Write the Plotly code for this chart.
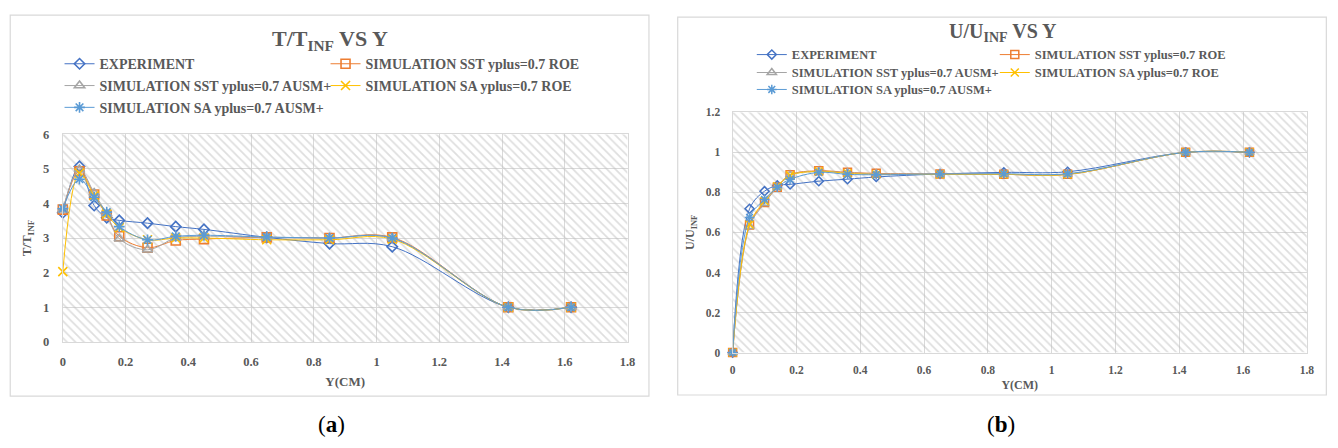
import plotly.graph_objects as go

W, H = 1338, 448

# ---------------- data ----------------
y_cm = [0, 0.053, 0.1, 0.14, 0.18, 0.27, 0.36, 0.45, 0.65, 0.85, 1.05, 1.42, 1.62]

series_names = [
    "EXPERIMENT",
    "SIMULATION SST yplus=0.7 ROE",
    "SIMULATION SST yplus=0.7 AUSM+",
    "SIMULATION SA yplus=0.7 ROE",
    "SIMULATION SA yplus=0.7 AUSM+",
]

t_exp      = [3.73, 5.07, 3.94, 3.59, 3.51, 3.43, 3.33, 3.25, 3.02, 2.84, 2.75, 1.0, 1.0]
t_sst_roe  = [3.82, 4.93, 4.26, 3.65, 3.05, 2.72, 2.93, 2.97, 3.02, 3.00, 3.02, 1.0, 1.0]
t_sst_ausm = [3.82, 4.98, 4.30, 3.70, 2.98, 2.66, 3.00, 3.05, 3.02, 3.00, 3.00, 1.0, 1.0]
t_sa_roe   = [2.03, 4.88, 4.22, 3.70, 3.30, 2.95, 3.00, 3.00, 2.95, 2.95, 2.97, 1.0, 1.0]
t_sa_ausm  = [3.85, 4.70, 4.18, 3.75, 3.33, 2.95, 3.05, 3.08, 3.03, 3.00, 3.00, 1.0, 1.0]

u_exp      = [0, 0.718, 0.806, 0.835, 0.840, 0.856, 0.866, 0.877, 0.892, 0.900, 0.903, 1.0, 1.0]
u_sst_roe  = [0, 0.637, 0.750, 0.826, 0.888, 0.908, 0.900, 0.895, 0.892, 0.890, 0.890, 1.0, 1.0]
u_sst_ausm = [0, 0.630, 0.745, 0.826, 0.886, 0.905, 0.898, 0.893, 0.892, 0.890, 0.890, 1.0, 1.0]
u_sa_roe   = [0, 0.640, 0.757, 0.830, 0.885, 0.905, 0.895, 0.890, 0.890, 0.890, 0.890, 1.0, 1.0]
u_sa_ausm  = [0, 0.675, 0.765, 0.826, 0.865, 0.900, 0.890, 0.888, 0.892, 0.893, 0.893, 1.0, 1.0]

t_series = [t_exp, t_sst_roe, t_sst_ausm, t_sa_roe, t_sa_ausm]
u_series = [u_exp, u_sst_roe, u_sst_ausm, u_sa_roe, u_sa_ausm]

x_range = [0, 1.8]
t_range = [0, 6]
u_range = [0, 1.2]

# ---------------- styles ----------------
colors = ["#4472C4", "#ED7D31", "#A5A5A5", "#FFC000", "#5B9BD5"]
symbols = ["diamond-open", "square-open", "triangle-up-open", "x-thin-open", "asterisk-open"]
sizes_l = [8, 9, 9, 9, 9]
sizes_r = [7, 8, 8, 8, 8]
legends_l = ["legend", "legend", "legend2", "legend2", "legend3"]
legends_r = ["legend4", "legend4", "legend5", "legend5", "legend6"]

TXT = "#595959"
GRID = "#D9D9D9"
FONT = "Liberation Serif"


def px_x(p):
    return p / W


def px_y(p):
    return 1 - p / H


fig = go.Figure()

# hatched plot-area backgrounds
for xa, ya, yr in [("x", "y", t_range), ("x2", "y2", u_range)]:
    fig.add_trace(go.Scatter(
        x=[x_range[0], x_range[1], x_range[1], x_range[0], x_range[0]],
        y=[yr[0], yr[0], yr[1], yr[1], yr[0]],
        xaxis=xa, yaxis=ya, mode="none", fill="toself",
        fillcolor="rgba(0,0,0,0)",
        fillpattern=dict(shape="\\", fgcolor="#BDBDBD", bgcolor="rgba(0,0,0,0)",
                         size=6, solidity=0.28),
        showlegend=False, hoverinfo="skip"))

for i, name in enumerate(series_names):
    fig.add_trace(go.Scatter(
        x=y_cm, y=t_series[i], name=name, xaxis="x", yaxis="y",
        mode="lines+markers", cliponaxis=False,
        line=dict(color=colors[i], width=1, shape="spline", smoothing=1),
        marker=dict(symbol=symbols[i], size=sizes_l[i], color=colors[i],
                    line=dict(color=colors[i], width=1.6)),
        legend=legends_l[i]))

for i, name in enumerate(series_names):
    fig.add_trace(go.Scatter(
        x=y_cm, y=u_series[i], name=name, xaxis="x2", yaxis="y2",
        mode="lines+markers", cliponaxis=False,
        line=dict(color=colors[i], width=1, shape="spline", smoothing=1),
        marker=dict(symbol=symbols[i], size=sizes_r[i], color=colors[i],
                    line=dict(color=colors[i], width=1.5)),
        legend=legends_r[i]))


def axis(domain, rng, dtick, fsize, title, tsize, standoff, labelstand, anchor):
    return dict(
        domain=domain, range=rng, dtick=dtick, anchor=anchor,
        showgrid=True, gridcolor=GRID, gridwidth=1.3, zeroline=False,
        showline=True, linecolor=GRID, linewidth=1.3, mirror=True,
        ticks="", ticklabelstandoff=labelstand,
        tickfont=dict(family=FONT, size=fsize, color=TXT, weight="bold"),
        title=dict(text=title, standoff=standoff,
                   font=dict(family=FONT, size=tsize, color=TXT, weight="bold")),
        fixedrange=True)


def legend(xp, yp, ew, fsize):
    return dict(x=px_x(xp), y=px_y(yp), xanchor="left", yanchor="middle",
                orientation="h", entrywidth=ew, entrywidthmode="pixels",
                itemwidth=30, bgcolor="rgba(0,0,0,0)", borderwidth=0,
                font=dict(family=FONT, size=fsize, color=TXT, weight="bold"),
                itemclick=False, itemdoubleclick=False)


fig.update_layout(
    width=W, height=H, margin=dict(l=0, r=0, t=0, b=0),
    paper_bgcolor="white", plot_bgcolor="white", showlegend=True,
    xaxis=axis([px_x(60.3), px_x(629.7)], x_range, 0.2, 12.5, "Y(CM)", 13, 8, 8, "y"),
    yaxis=axis([px_y(345.7), px_y(131.3)], t_range, 1, 12.5, "T/T<sub>INF</sub>", 13, 8, 10, "x"),
    xaxis2=axis([px_x(735.7), px_x(1314.7)], x_range, 0.2, 11.5, "Y(CM)", 12, 6, 6, "y2"),
    yaxis2=axis([px_y(356.7), px_y(108.7)], u_range, 0.2, 11.5, "U/U<sub>INF</sub>", 12, 8, 9, "x2"),
    legend=legend(57, 59, 221, 14),
    legend2=legend(57, 81.5, 221, 14),
    legend3=legend(57, 104, 221, 14),
    legend4=legend(755, 49.5, 198, 12.5),
    legend5=legend(755, 68, 198, 12.5),
    legend6=legend(755, 85.5, 198, 12.5),
    shapes=[
        dict(type="rect", xref="paper", yref="paper", x0=px_x(7.3), x1=px_x(651.3),
             y0=px_y(401.7), y1=px_y(8.3), line=dict(color=GRID, width=1.2), layer="below"),
        dict(type="rect", xref="paper", yref="paper", x0=px_x(680.3), x1=px_x(1334.3),
             y0=px_y(400.5), y1=px_y(10.5), line=dict(color=GRID, width=1.2), layer="below"),
    ],
    annotations=[
        dict(text="T/T<sub>INF</sub> VS Y", x=px_x(330), y=px_y(34), xref="paper", yref="paper",
             showarrow=False, xanchor="center", yanchor="middle",
             font=dict(family=FONT, size=22, color=TXT, weight="bold")),
        dict(text="U/U<sub>INF</sub> VS Y", x=px_x(1008), y=px_y(26), xref="paper", yref="paper",
             showarrow=False, xanchor="center", yanchor="middle",
             font=dict(family=FONT, size=20, color=TXT, weight="bold")),
        dict(text="(<b>a</b>)", x=px_x(331), y=px_y(431), xref="paper", yref="paper",
             showarrow=False, xanchor="center", yanchor="middle",
             font=dict(family=FONT, size=23, color="#000000")),
        dict(text="(<b>b</b>)", x=px_x(1006), y=px_y(431), xref="paper", yref="paper",
             showarrow=False, xanchor="center", yanchor="middle",
             font=dict(family=FONT, size=23, color="#000000")),
    ],
)

fig.write_html("out.html")
